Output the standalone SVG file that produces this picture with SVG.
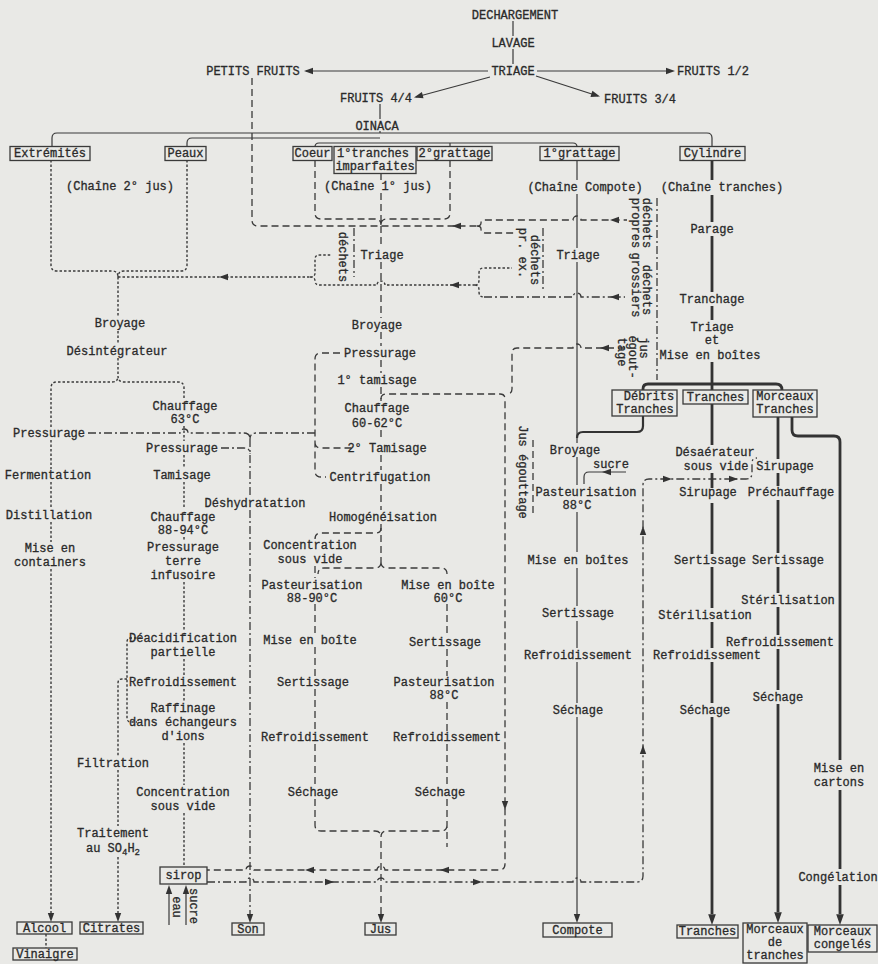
<svg xmlns="http://www.w3.org/2000/svg" width="878" height="964" viewBox="0 0 878 964">
<style>
.t{font-family:"Liberation Mono","DejaVu Sans Mono",monospace;font-size:12px;fill:#2a2a2a;stroke:#2a2a2a;stroke-width:0.3;text-anchor:middle}
.bx{fill:none;stroke:#3a3a3a;stroke-width:1.3}
.s{fill:none;stroke:#3a3a3a;stroke-width:1.2}
.k{fill:none;stroke:#333;stroke-width:2.8}
.m{fill:none;stroke:#333;stroke-width:2.2}
.d{fill:none;stroke:#3a3a3a;stroke-width:1.3;stroke-dasharray:7 4}
.o{fill:none;stroke:#3a3a3a;stroke-width:1.4;stroke-dasharray:2.5 2}
.x{fill:none;stroke:#3a3a3a;stroke-width:1.3;stroke-dasharray:8 3 2 3}
.a{fill:#333}
</style>
<defs><path id="ah" d="M0,0 L-9,-3.2 L-9,3.2 Z"/></defs>
<rect width="878" height="964" fill="#e9e9e6"/>
<g id="connectors">
<path class="s" d="M513,21 V36 M513,49 V64 M488,71 H306 M537,71 H672 M490,77 L416,97 M536,76 L598,96 M380,104 V119 M380,131 V133"/>
<use href="#ah" class="a" transform="translate(304,71) rotate(180)"/>
<use href="#ah" class="a" transform="translate(675,71)"/>
<use href="#ah" class="a" transform="translate(414,97.5) rotate(165.3)"/>
<use href="#ah" class="a" transform="translate(600,96.6) rotate(17.9)"/>
<path class="s" d="M52,147 V138 Q52,133 57,133 H707 Q712,133 712,138 V147 M187,147 V143 Q187,138 192,138 H380 M315,147 Q315,143 319,143 H573 Q577,143 577,147 M450,143 V147"/>
<path class="d" d="M315,160 V213 Q315,219 321,219 H375 Q381,219 381,225 M450,160 V213 Q450,219 444,219 H387 Q381,219 381,225 M381,173 V180 M381,193 V248 M381,262 V318 M381,332 V346 M381,360 V373 M381,387 V401 M381,430 V441 M381,455 V470 M381,484 V510 M381,524 V562"/>
<path class="d" d="M252,78 V220 Q252,226 258,226 H477"/>
<use href="#ah" class="a" transform="translate(452,226) rotate(180)"/>
<path class="d" d="M477,226 Q481,226 481,223 Q481,220 485,220 H573 a4,4 0 0 1 8,0 H627 M477,226 Q481,226 481,229 Q481,233 485,233 H517"/>
<use href="#ah" class="a" transform="translate(610,220) rotate(180)"/>
<path class="x" d="M543,228 V290 M354,228 V277"/>
<path class="o" d="M118,277 H310"/>
<use href="#ah" class="a" transform="translate(219,277) rotate(180)"/>
<path class="o" d="M310,277 Q315,277 315,273 V259 Q315,255 320,255 H332 M310,277 Q315,277 315,281 Q315,285 320,285 H377 a4,4 0 0 1 8,0 H475"/>
<use href="#ah" class="a" transform="translate(450,285) rotate(180)"/>
<path class="o" d="M475,285 Q479,285 479,280 V273 Q479,268 484,268 H512 M475,285 Q479,285 479,290 V292 Q479,297 484,297"/>
<path class="x" d="M484,297 H573 a4,4 0 0 1 8,0 H625"/>
<use href="#ah" class="a" transform="translate(610,297) rotate(180)"/>
<path class="d" d="M625,348 H581 a4,4 0 0 0 -8,0 H517 Q512,348 512,353 V389 Q512,394 507,394"/>
<use href="#ah" class="a" transform="translate(600,348) rotate(180)"/>
<path class="d" d="M381,399 Q381,394 386,394 H500 Q505,394 505,399 V864 Q505,870 499,870 H385 a4,4 0 0 0 -8,0 H254 a4,4 0 0 0 -8,0 H207"/>
<use href="#ah" class="a" transform="translate(505,810) rotate(90)"/>
<use href="#ah" class="a" transform="translate(440,870) rotate(180)"/>
<use href="#ah" class="a" transform="translate(305,870) rotate(180)"/>
<path class="d" d="M533,440 V517"/>
<path class="x" d="M657,198 V380"/>
<path class="x" d="M207,882 H246 a4,4 0 0 1 8,0 H377 a4,4 0 0 1 8,0 H573 a4,4 0 0 1 8,0 H637 Q643,882 643,876 V485 Q643,479 649,479 H746 Q752,479 752,473 V463 Q752,458 757,458"/>
<use href="#ah" class="a" transform="translate(334,882)"/>
<use href="#ah" class="a" transform="translate(482,882)"/>
<use href="#ah" class="a" transform="translate(643,745) rotate(-90)"/>
<use href="#ah" class="a" transform="translate(643,526) rotate(-90)"/>
<use href="#ah" class="a" transform="translate(672,479)"/>
<use href="#ah" class="a" transform="translate(738,479)"/>
<path class="o" d="M51,160 V265 Q51,271 57,271 H112 Q118,271 118,277 M187,160 V265 Q187,271 181,271 H124 Q118,271 118,277 M118,277 V316 M118,331 V344 M118,358 V376"/>
<path class="o" d="M51,427 V388 Q51,382 57,382 H112 Q118,382 118,376 Q118,382 124,382 H178 Q184,382 184,388 V399 M51,440 V469 M51,482 V509 M51,522 V542 M51,569 V914 M184,426 V441 M184,455 V468 M184,482 V509 M184,537 V541 M184,582 V631 M184,659 V675 M184,689 V702 M184,743 V785 M184,813 V866"/>
<use href="#ah" class="a" transform="translate(51,922) rotate(90)"/>
<path class="o" d="M46,934 V948"/>
<path class="o" d="M141,638 H131 Q127,638 127,642 V718 Q127,722 131,722 H137 M127,679 H122 Q118,679 118,683 V757 M118,770 V826 M118,857 V914"/>
<use href="#ah" class="a" transform="translate(118,922) rotate(90)"/>
<path class="s" d="M169,925 V892 M186,925 V892"/>
<use href="#ah" class="a" transform="translate(169,885) rotate(-90)"/>
<use href="#ah" class="a" transform="translate(186,885) rotate(-90)"/>
<path class="x" d="M88,433 H180 a4,4 0 0 1 8,0 H244 Q250,433 250,439 M315,433 H256 Q250,433 250,439 M221,448 H244 Q250,448 250,454 M250,439 V497 M250,510 V915"/>
<use href="#ah" class="a" transform="translate(250,923) rotate(90)"/>
<path class="d" d="M340,353 H321 Q315,353 315,359 V471 Q315,477 321,477 H326 M315,442 Q315,448 321,448 H354"/>
<path class="d" d="M381,528 Q381,533 376,533 H321 Q315,533 315,539 M381,562 Q381,568 387,568 H441 Q447,568 447,574 M381,562 Q381,568 375,568 H324 Q318,568 318,574 M315,566 V578 M315,604 V634 M315,647 V676 M315,689 V731 M315,744 V786 M315,799 V825 Q315,831 321,831 H375 Q381,831 381,837 M447,604 V636 M447,649 V676 M447,702 V731 M447,744 V786 M447,799 V847 M447,825 Q447,831 441,831 H387 Q381,831 381,837 V915"/>
<use href="#ah" class="a" transform="translate(381,923) rotate(90)"/>
<path class="s" d="M577,160 V180 M577,194 V248 M577,262 V443 M577,457 V485 M577,512 V552 M577,568 V606 M577,621 V648 M577,662 V703 M577,717 V915"/>
<use href="#ah" class="a" transform="translate(577,923) rotate(90)"/>
<path class="s" d="M626,472 H589 Q584,472 584,477 V484"/>
<use href="#ah" class="a" transform="translate(602,472) rotate(180)"/>
<path class="m" d="M643,416 V426 Q643,432 637,432 H583 Q577,432 577,438"/>
<path class="k" d="M712,160 V180 M712,195 V222 M712,236 V292 M712,306 V320 M712,362 V390 M643,390 V389 Q643,384 648,384 H776 Q782,384 782,390 M712,404 V445 M712,473 V488 M712,503 V554 M712,567 V608 M712,622 V648 M712,662 V703 M712,717 V914"/>
<use href="#ah" class="a" transform="translate(712,925) rotate(90) scale(1.2)"/>
<path class="k" d="M778,417 V459 M778,473 V486 M778,500 V553 M778,567 V593 M778,607 V635 M778,649 V690 M778,704 V912"/>
<use href="#ah" class="a" transform="translate(778,923) rotate(90) scale(1.2)"/>
<path class="k" d="M792,417 V430 Q792,436 798,436 H834 Q840,436 840,442 V760 M840,790 V869 M840,885 V914"/>
<use href="#ah" class="a" transform="translate(840,925) rotate(90) scale(1.2)"/>
</g>
<g id="n-dechargement"><text class="t" x="515" y="19">DECHARGEMENT</text></g>
<g id="n-lavage"><text class="t" x="513" y="47">LAVAGE</text></g>
<g id="n-triage"><text class="t" x="513" y="75">TRIAGE</text></g>
<g id="n-petits"><text class="t" x="253" y="75">PETITS FRUITS</text></g>
<g id="n-f12"><text class="t" x="713" y="75">FRUITS 1/2</text></g>
<g id="n-f44"><text class="t" x="376" y="102">FRUITS 4/4</text></g>
<g id="n-f34"><text class="t" x="640" y="103">FRUITS 3/4</text></g>
<g id="n-oinaca"><text class="t" x="377" y="130">OINACA</text></g>
<g id="n-extremites"><rect class="bx" x="10" y="146.5" width="80" height="14"/><text class="t" x="50" y="157">Extrémités</text></g>
<g id="n-peaux"><rect class="bx" x="165" y="146.5" width="41" height="14"/><text class="t" x="185.5" y="157">Peaux</text></g>
<g id="n-coeur"><rect class="bx" x="293" y="146.5" width="39" height="14"/><text class="t" x="312.5" y="157">Coeur</text></g>
<g id="n-tranchesimp"><rect class="bx" x="334" y="146.5" width="82" height="27"/><text class="t" x="373" y="157">1°tranches</text><text class="t" x="375" y="170">imparfaites</text></g>
<g id="n-2grattage"><rect class="bx" x="417" y="146.5" width="75" height="14"/><text class="t" x="454.5" y="157">2°grattage</text></g>
<g id="n-1grattage"><rect class="bx" x="540" y="146.5" width="79" height="14"/><text class="t" x="579.5" y="157">1°grattage</text></g>
<g id="n-cylindre"><rect class="bx" x="680" y="146.5" width="65" height="14"/><text class="t" x="712.5" y="157">Cylindre</text></g>
<g id="n-ch2"><text class="t" x="120" y="190">(Chaîne 2° jus)</text></g>
<g id="n-ch1"><text class="t" x="378" y="190">(Chaîne 1° jus)</text></g>
<g id="n-chc"><text class="t" x="585" y="191">(Chaîne Compote)</text></g>
<g id="n-cht"><text class="t" x="722" y="191">(Chaîne tranches)</text></g>
<g id="n-dech1"><text class="t" transform="translate(343,257) rotate(90)" y="4">déchets</text></g>
<g id="n-dech2"><text class="t" transform="translate(523,253) rotate(90)" y="4">pr. ex.</text><text class="t" transform="translate(535,260) rotate(90)" y="4">déchets</text></g>
<g id="n-dech3"><text class="t" transform="translate(647,223) rotate(90)" y="4">déchets</text><text class="t" transform="translate(636,223) rotate(90)" y="4">propres</text></g>
<g id="n-dech4"><text class="t" transform="translate(647,290) rotate(90)" y="4">déchets</text><text class="t" transform="translate(636,285) rotate(90)" y="4">grossiers</text></g>
<g id="n-egout"><text class="t" transform="translate(644,348) rotate(90)" y="4">jus</text><text class="t" transform="translate(633,357) rotate(90)" y="4">égout-</text><text class="t" transform="translate(622,352) rotate(90)" y="4">tage</text></g>
<g id="n-jusegout"><text class="t" transform="translate(523,472) rotate(90)" y="4">Jus égouttage</text></g>
<g id="n-2jus"><text class="t" x="120" y="327">Broyage</text><text class="t" x="117" y="355">Désintégrateur</text></g>
<g id="n-press1"><text class="t" x="49" y="437">Pressurage</text></g>
<g id="n-ferm"><text class="t" x="48" y="479">Fermentation</text></g>
<g id="n-dist"><text class="t" x="49" y="519">Distillation</text></g>
<g id="n-misecont"><text class="t" x="50" y="552">Mise en</text><text class="t" x="50" y="566">containers</text></g>
<g id="n-chauf63"><text class="t" x="185" y="410">Chauffage</text><text class="t" x="185" y="423">63°C</text></g>
<g id="n-press2"><text class="t" x="182" y="452">Pressurage</text></g>
<g id="n-tamis"><text class="t" x="182" y="479">Tamisage</text></g>
<g id="n-chauf88"><text class="t" x="183" y="521">Chauffage</text><text class="t" x="183" y="534">88-94°C</text></g>
<g id="n-pressterre"><text class="t" x="183" y="551">Pressurage</text><text class="t" x="183" y="565">terre</text><text class="t" x="183" y="579">infusoire</text></g>
<g id="n-deacid"><text class="t" x="183" y="642">Déacidification</text><text class="t" x="183" y="656">partielle</text></g>
<g id="n-refr2"><text class="t" x="183" y="686">Refroidissement</text></g>
<g id="n-raff"><text class="t" x="183" y="712">Raffinage</text><text class="t" x="183" y="726">dans échangeurs</text><text class="t" x="183" y="740">d'ions</text></g>
<g id="n-conc2"><text class="t" x="183" y="796">Concentration</text><text class="t" x="183" y="810">sous vide</text></g>
<g id="n-filt"><text class="t" x="113" y="767">Filtration</text></g>
<g id="n-trait"><text class="t" x="113" y="837">Traitement</text><text class="t" x="113" y="852">au SO<tspan font-size="9" dy="3">4</tspan><tspan dy="-3">H</tspan><tspan font-size="9" dy="3">2</tspan></text></g>
<g id="n-sirop"><rect class="bx" x="160" y="867" width="47" height="17"/><text class="t" x="183.5" y="879">sirop</text></g>
<g id="n-eau"><text class="t" transform="translate(177,907) rotate(90)" y="4">eau</text><text class="t" transform="translate(194,906) rotate(90)" y="4">sucre</text></g>
<g id="n-alcool"><rect class="bx" x="17" y="922" width="55" height="12"/><text class="t" x="44.5" y="932">Alcool</text></g>
<g id="n-vinaigre"><rect class="bx" x="13" y="948" width="64" height="12"/><text class="t" x="45" y="958">Vinaigre</text></g>
<g id="n-citrates"><rect class="bx" x="80" y="922" width="63" height="12"/><text class="t" x="111.5" y="932">Citrates</text></g>
<g id="n-son"><rect class="bx" x="232" y="923" width="32" height="12"/><text class="t" x="248" y="933">Son</text></g>
<g id="n-deshy"><text class="t" x="255" y="507">Déshydratation</text></g>
<g id="n-1jus"><text class="t" x="382" y="259">Triage</text><text class="t" x="377" y="329">Broyage</text><text class="t" x="380" y="357">Pressurage</text><text class="t" x="377" y="384">1° tamisage</text><text class="t" x="377" y="412">Chauffage</text><text class="t" x="377" y="427">60-62°C</text><text class="t" x="387" y="452">2° Tamisage</text><text class="t" x="380" y="481">Centrifugation</text><text class="t" x="383" y="521">Homogénéisation</text></g>
<g id="n-conc1"><text class="t" x="310" y="549">Concentration</text><text class="t" x="310" y="563">sous vide</text></g>
<g id="n-1jusL"><text class="t" x="312" y="589">Pasteurisation</text><text class="t" x="312" y="602">88-90°C</text><text class="t" x="310" y="644">Mise en boîte</text><text class="t" x="313" y="686">Sertissage</text><text class="t" x="315" y="741">Refroidissement</text><text class="t" x="313" y="796">Séchage</text></g>
<g id="n-1jusR"><text class="t" x="448" y="589">Mise en boîte</text><text class="t" x="448" y="602">60°C</text><text class="t" x="445" y="646">Sertissage</text><text class="t" x="444" y="686">Pasteurisation</text><text class="t" x="444" y="699">88°C</text><text class="t" x="447" y="741">Refroidissement</text><text class="t" x="440" y="796">Séchage</text></g>
<g id="n-jus"><rect class="bx" x="365" y="923" width="31" height="12"/><text class="t" x="380.5" y="933">Jus</text></g>
<g id="n-compotechain"><text class="t" x="578" y="259">Triage</text><text class="t" x="575" y="454">Broyage</text><text class="t" x="611" y="468">sucre</text><text class="t" x="586" y="496">Pasteurisation</text><text class="t" x="577" y="509">88°C</text><text class="t" x="578" y="564">Mise en boîtes</text><text class="t" x="578" y="617">Sertissage</text><text class="t" x="578" y="659">Refroidissement</text><text class="t" x="578" y="714">Séchage</text></g>
<g id="n-compote"><rect class="bx" x="543" y="923" width="69" height="14"/><text class="t" x="577.5" y="934">Compote</text></g>
<g id="n-tranchechain"><text class="t" x="712" y="233">Parage</text><text class="t" x="712" y="303">Tranchage</text><text class="t" x="712" y="331">Triage</text><text class="t" x="712" y="344">et</text><text class="t" x="710" y="359">Mise en boîtes</text></g>
<g id="n-debrits"><rect class="bx" x="612" y="390" width="65" height="26"/><text class="t" x="649" y="400">Débrits</text><text class="t" x="645" y="413">Tranches</text></g>
<g id="n-tranchesbox"><rect class="bx" x="683" y="390" width="65" height="14"/><text class="t" x="715.5" y="401">Tranches</text></g>
<g id="n-morceauxbox"><rect class="bx" x="753" y="390" width="64" height="27"/><text class="t" x="785" y="400">Morceaux</text><text class="t" x="785" y="413">Tranches</text></g>
<g id="n-tranchesL"><text class="t" x="715" y="456">Désaérateur</text><text class="t" x="716" y="470">sous vide</text><text class="t" x="708" y="496">Sirupage</text><text class="t" x="710" y="564">Sertissage</text><text class="t" x="705" y="619">Stérilisation</text><text class="t" x="707" y="659">Refroidissement</text><text class="t" x="705" y="714">Séchage</text></g>
<g id="n-morceauxL"><text class="t" x="785" y="470">Sirupage</text><text class="t" x="791" y="496">Préchauffage</text><text class="t" x="788" y="564">Sertissage</text><text class="t" x="788" y="604">Stérilisation</text><text class="t" x="780" y="646">Refroidissement</text><text class="t" x="778" y="701">Séchage</text></g>
<g id="n-cartons"><text class="t" x="839" y="772">Mise en</text><text class="t" x="839" y="786">cartons</text><text class="t" x="838" y="881">Congélation</text></g>
<g id="n-tranchesend"><rect class="bx" x="677" y="925" width="61" height="13"/><text class="t" x="707.5" y="935">Tranches</text></g>
<g id="n-morceauxend"><rect class="bx" x="743" y="923" width="64" height="40"/><text class="t" x="775" y="933">Morceaux</text><text class="t" x="775" y="946">de</text><text class="t" x="775" y="959">tranches</text></g>
<g id="n-congeles"><rect class="bx" x="808" y="925" width="69" height="27"/><text class="t" x="842.5" y="935">Morceaux</text><text class="t" x="842.5" y="948">congelés</text></g>
</svg>
